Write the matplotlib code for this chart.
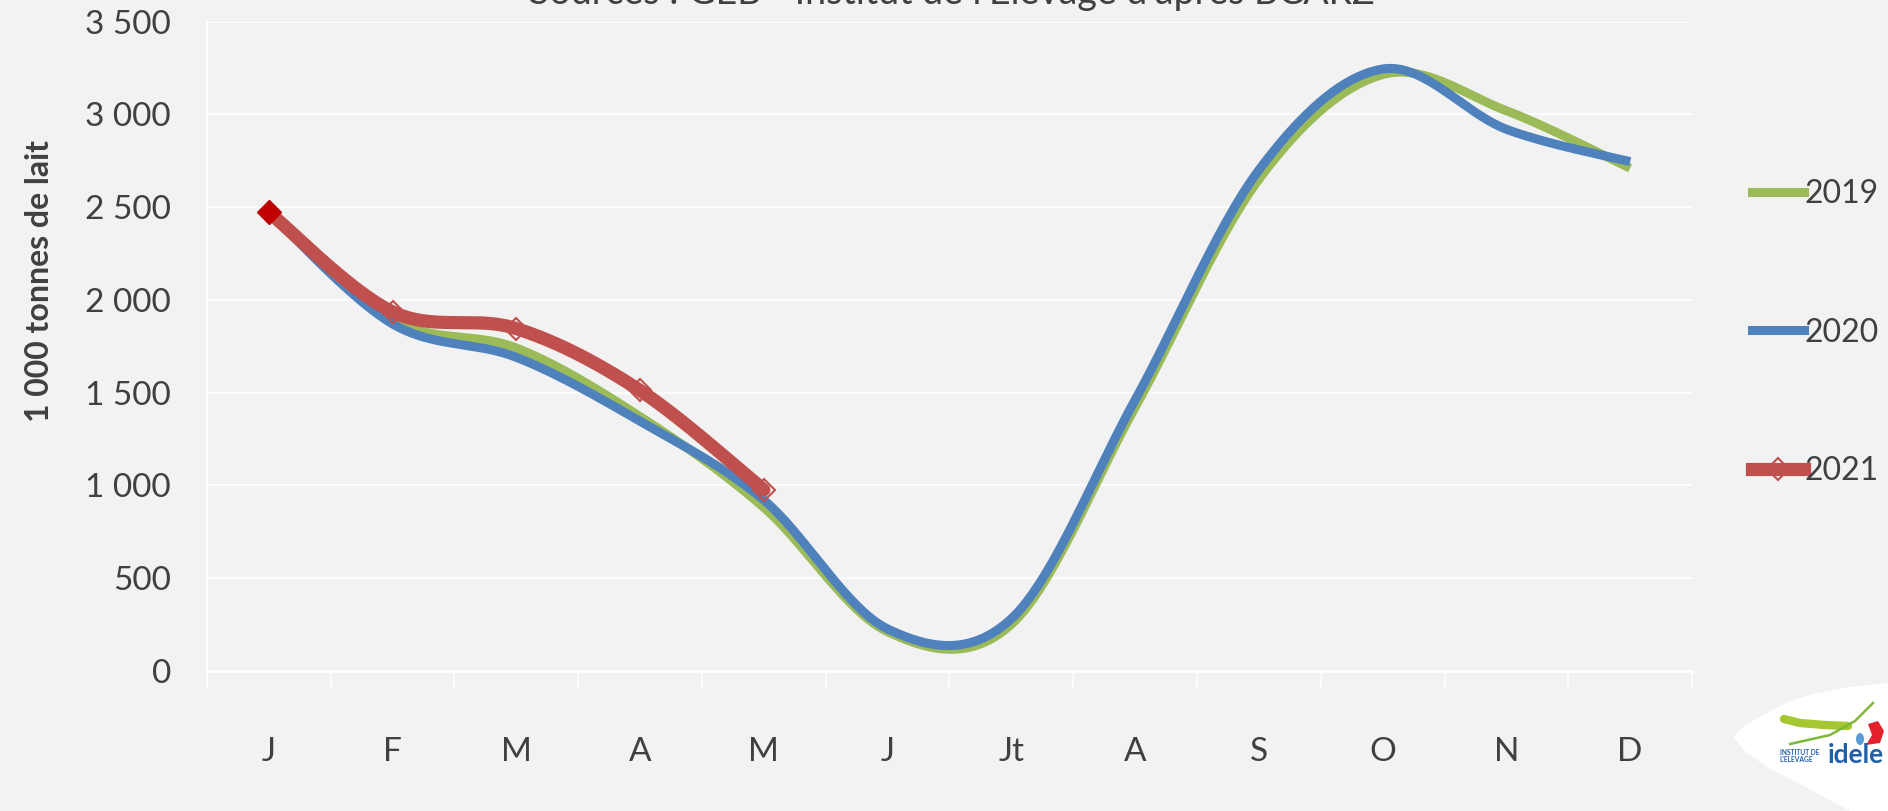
import numpy as np
import matplotlib.pyplot as plt
from matplotlib.lines import Line2D
from matplotlib.patches import Polygon, Ellipse

# ---------------- DATA ---------------- #

months = ["J", "F", "M", "A", "M", "J", "Jt", "A", "S", "O", "N", "D"]
lait_2019 = [2470, 1890, 1740, 1370, 880, 210, 250, 1420, 2650, 3215, 3020, 2710]
lait_2020 = [2470, 1870, 1690, 1345, 920, 225, 280, 1460, 2700, 3245, 2920, 2745]
lait_2021 = [2473, 1935, 1845, 1511, 975]

source = "Sources : GEB - Institut de l'Elevage d'après BCARZ"

GREEN = "#9BBB59"
BLUE = "#4F81BD"
RED = "#C0504D"
DARKRED = "#C00000"
BG = "#F2F2F2"
TXT = "#404040"


def smooth(values, n=40):
    # excel-like smoothed line (catmull-rom through the points)
    y = np.asarray(values, dtype=float)
    x = np.arange(len(y), dtype=float)
    px = np.concatenate([[x[0]], x, [x[-1]]])
    py = np.concatenate([[y[0]], y, [y[-1]]])
    xs, ys = [], []
    t = np.linspace(0, 1, n)
    h00 = 2 * t**3 - 3 * t**2 + 1
    h10 = t**3 - 2 * t**2 + t
    h01 = -2 * t**3 + 3 * t**2
    h11 = t**3 - t**2
    for i in range(1, len(px) - 2):
        for p, out in ((px, xs), (py, ys)):
            m0 = (p[i + 1] - p[i - 1]) / 2
            m1 = (p[i + 2] - p[i]) / 2
            out.append(h00 * p[i] + h10 * m0 + h01 * p[i + 1] + h11 * m1)
    return np.concatenate(xs), np.concatenate(ys)


plt.rcParams["font.family"] = ["Lato", "DejaVu Sans"]

fig = plt.figure(figsize=(18.88, 8.11), dpi=100, facecolor=BG)
ax = fig.add_axes([0.1096, 0.1731, 0.7866, 0.8001], facecolor=BG)

x19, y19 = smooth(lait_2019)
x20, y20 = smooth(lait_2020)
x21, y21 = smooth(lait_2021)

ax.plot(x19, y19, color=GREEN, lw=6.5, solid_capstyle="butt", zorder=3)
ax.plot(x20, y20, color=BLUE, lw=6.5, solid_capstyle="butt", zorder=4)
ax.plot(np.arange(1, len(lait_2021)), lait_2021[1:], "D", ms=11, mfc="none",
        mec=RED, mew=1.5, zorder=5)
ax.plot(x21, y21, color=RED, lw=9.5, solid_capstyle="round", zorder=6)
ax.plot([0], lait_2021[:1], "D", ms=12, color=DARKRED, zorder=7)

ax.set_xlim(-0.5, len(months) - 0.5)
ax.set_ylim(0, 3500)
ax.set_yticks(np.arange(0, 3501, 500))
ax.set_yticklabels([f"{v:,}".replace(",", " ") for v in range(0, 3501, 500)])
ax.set_xticks(np.arange(len(months)))
ax.set_xticklabels(months)
ax.set_xticks(np.arange(-0.5, len(months)), minor=True)

ax.grid(axis="y", color="white", lw=1.2)
ax.set_axisbelow(True)
for s in ["top", "right"]:
    ax.spines[s].set_visible(False)
ax.spines["left"].set_color("white")
ax.spines["bottom"].set_color("white")
ax.spines["left"].set_linewidth(1.5)
ax.spines["bottom"].set_linewidth(2)

ax.tick_params(axis="x", which="major", length=0, pad=48, labelsize=24, labelcolor=TXT)
ax.tick_params(axis="x", which="minor", length=12, width=1.2, color="white")
ax.tick_params(axis="y", length=0, pad=26, labelsize=24, labelcolor=TXT)

fig.text(0.0207, 0.6535, "1 000 tonnes de lait", rotation=90, ha="center", va="center",
         fontsize=23, fontweight="bold", color=TXT)

fig.text(0.504, 0.995, source, ha="center", va="baseline", fontsize=27, color=TXT)

handles = [
    Line2D([], [], color=GREEN, lw=6.5),
    Line2D([], [], color=BLUE, lw=6.5),
    Line2D([], [], color=RED, lw=9.5, marker="D", ms=11, mfc="none", mec=RED, mew=1.5),
]
fig.legend(handles, ["2019", "2020", "2021"], loc="upper left",
           bbox_to_anchor=(0.921, 0.795), frameon=False, fontsize=23,
           labelcolor=TXT, handlelength=1.65, handletextpad=0.0,
           labelspacing=3.4, borderaxespad=0)

# ---------------- LOGO ---------------- #

logo = Polygon([[1733, 74], [1745, 86], [1767, 98], [1790, 110], [1817, 118],
                [1850, 124], [1888, 128], [1888, 0], [1850, 0], [1817, 18],
                [1767, 44], [1745, 60]], closed=True, transform=None,
               facecolor="white", edgecolor="none")
fig.patches.append(logo)
fig.text(1780 / 1888, 55 / 811, "INSTITUT DE\nL'ELEVAGE", fontsize=4.8,
         fontweight="bold", color="#1F5FA8", linespacing=1.1, va="center")
fig.text(1828 / 1888, 56 / 811, "idele", fontsize=19, fontweight="bold",
         color="#1F5FA8", va="center")
fig.lines.append(Line2D([1784, 1800, 1825, 1848], [92, 88, 86, 85], transform=None,
                        color="#A5C832", lw=6, solid_capstyle="round"))
fig.lines.append(Line2D([1790, 1830, 1855, 1873], [67, 76, 90, 108], transform=None,
                        color="#7DB83A", lw=1.8))
fig.patches.append(Polygon([[1866, 66], [1880, 68], [1884, 80], [1878, 90], [1868, 87],
                            [1872, 76]], closed=True, transform=None,
                           facecolor="#E3202C"))
fig.patches.append(Ellipse((1860, 72), 8, 12, transform=None, facecolor="#5B9BD5"))

fig.savefig("out.png", dpi=100, facecolor=BG)
